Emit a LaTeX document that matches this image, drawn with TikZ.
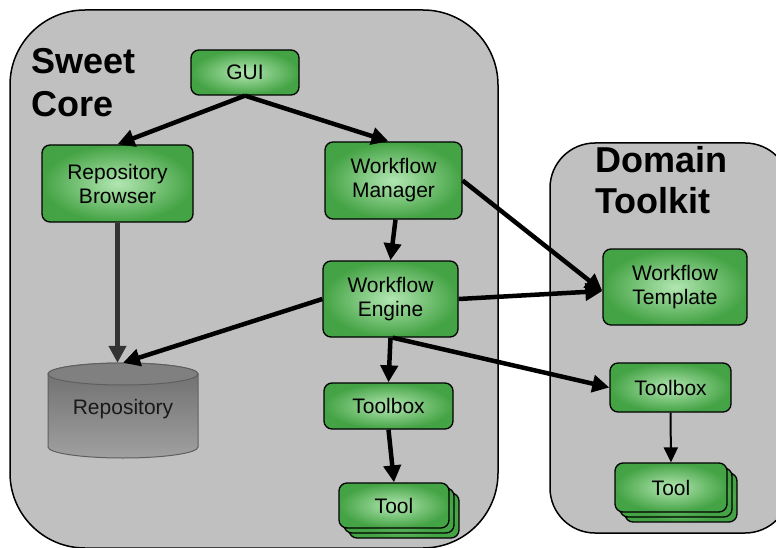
\documentclass[tikz,border=0pt]{standalone}
\usepackage{fontspec}
\setmainfont{Liberation Sans}
\usetikzlibrary{arrows.meta}
\definecolor{panelgray}{RGB}{192,192,192}
\definecolor{boxgreen}{RGB}{68,163,68}
\definecolor{boxlight}{RGB}{178,230,178}
\definecolor{repodark}{RGB}{108,108,108}
\definecolor{repolight}{RGB}{160,160,160}
\definecolor{repocap}{RGB}{128,128,128}
\definecolor{repoline}{RGB}{95,95,95}
\definecolor{linkgray}{RGB}{51,51,51}
\tikzset{
  panel/.style={draw=black,line width=1.5pt,fill=panelgray,rounded corners=#1},
  greenbox/.style={draw=black,line width=1.3pt,rounded corners=8pt,inner color=boxlight,outer color=boxgreen,font=\fontsize{21}{24}\selectfont,align=center,inner sep=0pt},
  link/.style={line width=4.5pt,-{Triangle[length=17pt,width=17pt]}},
  thinlink/.style={line width=2pt,-{Triangle[length=15pt,width=14pt]}},
  paneltitle/.style={font=\fontsize{36}{43}\selectfont\bfseries,align=left,inner sep=0pt}
}
\begin{document}
\begin{tikzpicture}[x=1pt,y=-1pt]
  \useasboundingbox (0,0) rectangle (776,548);
  % panels
  \draw[panel=75pt] (10,10) rectangle (498,548);
  \draw[panel=45pt] (550,143) rectangle (790,533);
  \node[paneltitle,anchor=base west] (sweet) at (31,117) {Sweet\\Core};
  \node[paneltitle,anchor=base west,font=\fontsize{36}{41}\selectfont\bfseries] (domain) at (595,214) {Domain\\Toolkit};
  % repository cylinder
  \shade[top color=repodark,bottom color=repolight,draw=repoline,line width=1pt] (48,374) -- (48,447) arc (180:0:75 and 11) -- (198,374) arc (0:-180:75 and 11) -- cycle;
  \filldraw[fill=repocap,draw=repoline,line width=1pt] (123,374) ellipse (75 and 11);
  \node[font=\fontsize{21}{24}\selectfont,text=black!90,minimum width=150pt,minimum height=92pt,inner sep=0pt] (repo) at (123,409) {Repository};
  % core boxes
  \node[greenbox,minimum width=108pt,minimum height=45pt] (gui) at (245,72.5) {GUI};
  \node[greenbox,minimum width=151pt,minimum height=77pt] (browser) at (117.5,183.5) {Repository\\Browser};
  \node[greenbox,minimum width=137pt,minimum height=77pt] (manager) at (393.5,180.5) {Workflow\\Manager};
  \node[greenbox,minimum width=135pt,minimum height=76pt] (engine) at (390.5,299) {Workflow\\Engine};
  \node[greenbox,minimum width=129pt,minimum height=46pt] (toolbox) at (388.5,406) {Toolbox};
  \node[greenbox,minimum width=110pt,minimum height=45pt] (toolc) at (404,515.5) {};
  \node[greenbox,minimum width=110pt,minimum height=45pt] (toolb) at (399,510.5) {};
  \node[greenbox,minimum width=110pt,minimum height=45pt] (tool) at (394,505.5) {Tool};
  % toolkit boxes
  \node[greenbox,minimum width=144pt,minimum height=76pt] (template) at (675,287) {Workflow\\Template};
  \node[greenbox,minimum width=121pt,minimum height=49pt] (domtoolbox) at (670.5,387.5) {Toolbox};
  \node[greenbox,minimum width=112pt,minimum height=49pt] (domtoolc) at (681,497.5) {};
  \node[greenbox,minimum width=112pt,minimum height=49pt] (domtoolb) at (676,492.5) {};
  \node[greenbox,minimum width=112pt,minimum height=49pt] (domtool) at (671,487.5) {Tool};
  % links
  \draw[link] (gui.south) -- (browser.north);
  \draw[link] (gui.south) -- ([xshift=-5pt]manager.north);
  \draw[link,linkgray] (browser.south) -- (browser.south |- repo.north);
  \draw[link] (engine.west) -- (repo.north);
  \draw[link] ([xshift=2pt]manager.south) -- (engine.north);
  \draw[link] (manager.east) -- ([yshift=-4pt]template.west);
  \draw[link] (engine.east) -- ([yshift=-4pt]template.west);
  \draw[link] (engine.south) -- (toolbox.north);
  \draw[link] ([xshift=2pt]engine.south) -- (domtoolbox.west);
  \draw[link] (toolbox.south) -- (tool.north);
  \draw[thinlink] (domtoolbox.south) -- (domtool.north);
\end{tikzpicture}
\end{document}
